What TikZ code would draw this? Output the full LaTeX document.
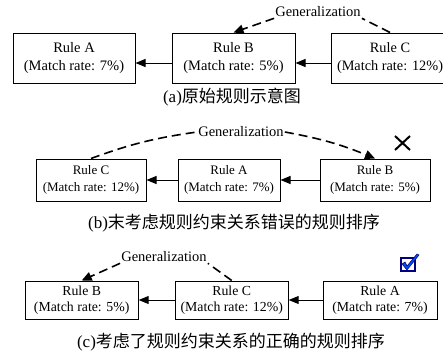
\documentclass[tikz,border=0pt]{standalone}
\usepackage{fontspec}
\setmainfont{Liberation Serif}
\newfontfamily\cjk{Noto Sans CJK SC}
\usetikzlibrary{arrows.meta}

\begin{document}
\begin{tikzpicture}
            [
                x=1pt, y=-1pt,
                rule/.style={rectangle, draw, line width=1pt, align=center, inner sep=0pt},
                arr/.style={-{Triangle[length=10pt,width=8pt]}, line width=1pt},
                gen/.style={dash pattern=on 9pt off 5pt, line width=1.6pt},
                gentip/.style={-{Triangle[length=10pt,width=9pt]}},
                genlabel/.style={inner sep=1pt, font=\fontsize{14.5}{17}\selectfont},
                caption/.style={inner sep=0pt, font=\fontsize{17}{20}\selectfont}
            ]
            \useasboundingbox (0,0) rectangle (443,356);
            %nodes (a)
            \node[rule, minimum width=122pt, minimum height=50pt, font=\fontsize{14.5}{17.6}\selectfont] at (74,58)     (a_rule_a)  {Rule A\\(Match rate: 7\%)};
            \node[rule, minimum width=123pt, minimum height=50pt, font=\fontsize{14.5}{17.6}\selectfont] at (233.5,58)  (a_rule_b)  {Rule B\\(Match rate: 5\%)};
            \node[rule, minimum width=118pt, minimum height=50pt, font=\fontsize{14.3}{17.6}\selectfont] at (390,58)    (a_rule_c)  {Rule C\\(Match rate: 12\%)};
            \node[genlabel] at (318,12)                 (a_gen)     {Generalization};
            \node[caption] at (232,97)                  (a_caption) {(a){\cjk 原始规则示意图}};
            %arrows (a)
            \draw[arr] ([yshift=-5pt]a_rule_b.west) -- ([yshift=-5pt]a_rule_a.east);
            \draw[arr] ([yshift=-5pt]a_rule_c.west) -- ([yshift=-5pt]a_rule_b.east);
            \draw[gen] (a_rule_c.north) -- (a_gen.south east);
            \draw[gen, gentip] (a_gen.south west) -- (a_rule_b.north);
            %nodes (b)
            \node[rule, minimum width=110pt, minimum height=42pt, font=\fontsize{13}{16.7}\selectfont] at (91,180)     (b_rule_c)  {Rule C\\(Match rate: 12\%)};
            \node[rule, minimum width=102pt, minimum height=42pt, font=\fontsize{13}{16.7}\selectfont] at (229,180)    (b_rule_a)  {Rule A\\(Match rate: 7\%)};
            \node[rule, minimum width=110pt, minimum height=42pt, font=\fontsize{13}{16.7}\selectfont] at (375,180)    (b_rule_b)  {Rule B\\(Match rate: 5\%)};
            \node[genlabel] at (241,132)                (b_gen)     {Generalization};
            \node[caption] at (234,223)                 (b_caption) {(b){\cjk 末考虑规则约束关系错误的规则排序}};
            %arrows (b)
            \draw[arr] (b_rule_a.west) -- (b_rule_c.east);
            \draw[arr] (b_rule_b.west) -- (b_rule_a.east);
            \draw[gen] (b_rule_c.north) to[bend left=6] (b_gen.west);
            \draw[gen, gentip] (b_gen.east) to[bend left=6] (b_rule_b.north);
            %cross
            \draw[line width=2pt] (395,136) -- (410,150) (395,150) -- (410,136);
            %nodes (c)
            \node[rule, minimum width=113pt, minimum height=38pt, font=\fontsize{13.8}{16}\selectfont] at (81.7,300)   (c_rule_b)  {Rule B\\(Match rate: 5\%)};
            \node[rule, minimum width=113pt, minimum height=38pt, font=\fontsize{13.8}{16}\selectfont] at (231.7,300)  (c_rule_c)  {Rule C\\(Match rate: 12\%)};
            \node[rule, minimum width=114pt, minimum height=38pt, font=\fontsize{13.8}{16}\selectfont] at (380,300)    (c_rule_a)  {Rule A\\(Match rate: 7\%)};
            \node[genlabel] at (164,257)                (c_gen)     {Generalization};
            \node[caption] at (231,342)                 (c_caption) {(c){\cjk 考虑了规则约束关系的正确的规则排序}};
            %arrows (c)
            \draw[arr] (c_rule_c.west) -- (c_rule_b.east);
            \draw[arr] (c_rule_a.west) -- (c_rule_c.east);
            \draw[gen] (c_rule_c.north) -- (c_gen.south east);
            \draw[gen, gentip] (c_gen.south west) -- (c_rule_b.north);
            %check mark
            \draw[draw=blue!50!black, line width=1.5pt] (401,258) rectangle (415,271);
            \filldraw[fill=blue!70!cyan, draw=blue!40!black, line width=0.5pt]
                (402,264) -- (405,262) -- (407,266) -- (417,254) -- (419,255) -- (407,270) -- cycle;
        \end{tikzpicture}
\end{document}
